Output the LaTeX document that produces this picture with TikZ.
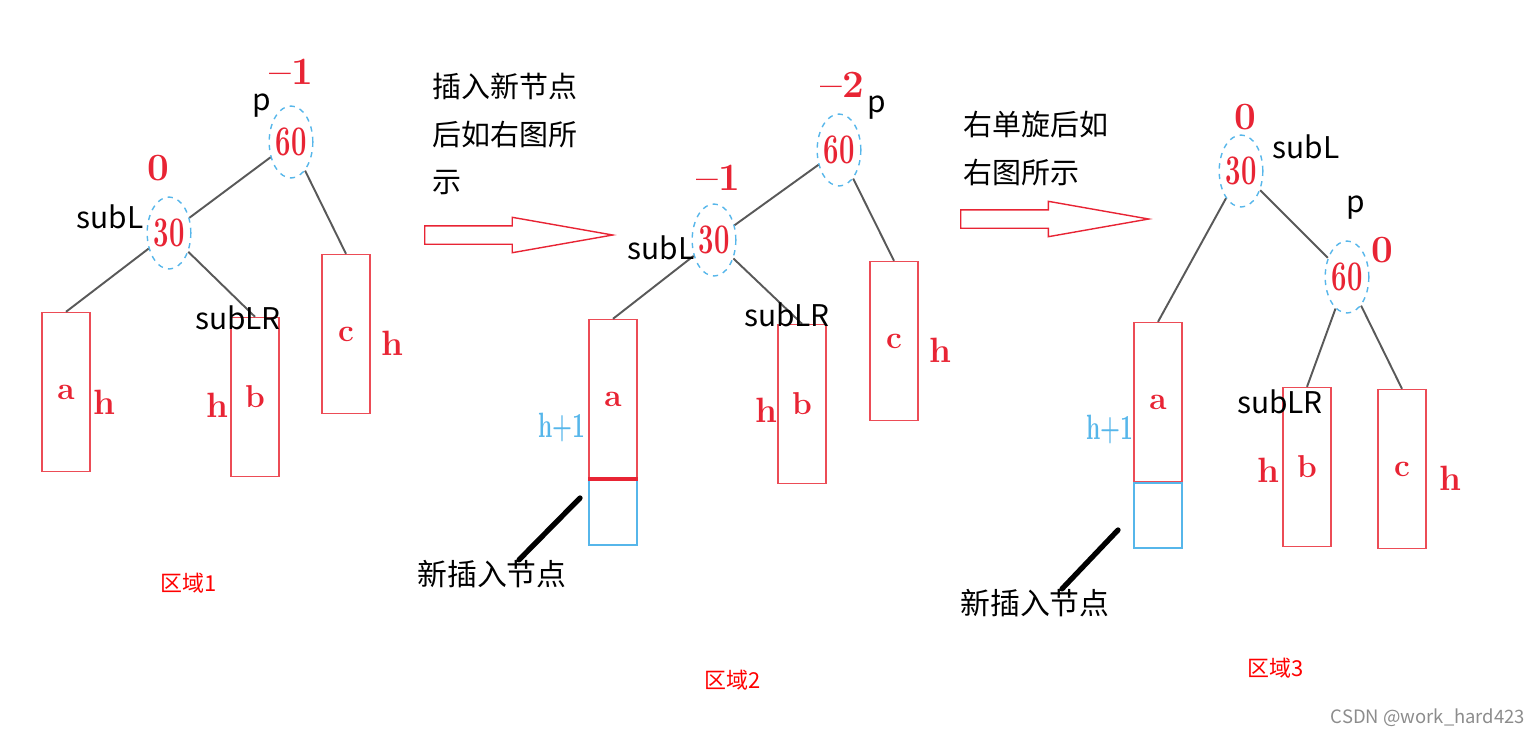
\documentclass[tikz,border=0pt]{standalone}
\usepackage{fontspec}
\usepackage{tikz}
\usetikzlibrary{positioning,shapes.geometric,shapes.arrows}
\newfontfamily\cjk{Noto Sans CJK SC}
\definecolor{avlred}{RGB}{232,36,52}
\definecolor{boxred}{RGB}{236,76,86}
\definecolor{avlblue}{RGB}{86,182,234}
\newcommand{\condtxt}[1]{\scalebox{0.65}[1]{#1}}

\begin{document}
\begin{tikzpicture}[
			x=0.02cm, y=-0.02cm,
			key/.style={ellipse, draw=avlblue, dashed, thick, minimum width=0.78cm, minimum height=1.44cm, inner sep=0pt, text=avlred, font=\bfseries\fontsize{24}{24}\selectfont},
			bal/.style={text=avlred, inner sep=0pt, font=\bfseries\fontsize{22}{22}\selectfont},
			tag/.style={inner sep=0pt, font=\cjk\fontsize{17}{17}\selectfont},
			sub/.style={draw=boxred, thick, minimum width=0.96cm, minimum height=3.18cm, inner sep=0pt, text=avlred, font=\bfseries\fontsize{18}{18}\selectfont},
			newsub/.style={draw=avlblue, thick, minimum width=0.96cm, minimum height=1.3cm, inner sep=0pt, anchor=north},
			hlab/.style={text=avlred, inner sep=0pt, font=\bfseries\fontsize{20}{20}\selectfont},
			link/.style={draw=black!65, line width=1.1pt},
			ptr/.style={line width=3pt, line cap=round},
			note/.style={align=left, inner sep=0pt, anchor=north west, font=\cjk\fontsize{16.5}{27}\selectfont},
			area/.style={text=red, font=\cjk\fontsize{12.5}{12.5}\selectfont},
			bigarrow/.style={single arrow, anchor=tail, draw=avlred, fill=white, thick, minimum height=3.76cm, inner xsep=0pt, inner ysep=0.17cm, single arrow head extend=0.17cm, single arrow tip angle=20}
			]
	\useasboundingbox (0,0) rectangle (1534,735);
	
	%% Region 1: before insertion
	\node[key] (p1) at (291,142) {\condtxt{60}};
	\node[key] (l1) at (169,233) {\condtxt{30}};
	\node[sub] (a1) at (66,392) {a};
	\node[sub] (b1) at (255,397) {b};
	\node[sub] (c1) at (346,334) {c};
	\draw[link] (p1) -- (l1);
	\draw[link] (p1) -- (c1.north);
	\draw[link] (l1) -- (a1.north);
	\draw[link] (l1) -- (b1.north);
	\node[bal] (bp1) at (291,72) {--1};
	\node[bal] (bl1) at (158,168) {0};
	\node[tag] (tp1) at (262,106) {p};
	\node[tag] (tl1) at (110,217) {subL};
	\node[tag] (tr1) at (238,318) {subLR};
	\node[hlab] (ha1) at (104,402) {h};
	\node[hlab] (hb1) at (217,405) {h};
	\node[hlab] (hc1) at (392,343) {h};
	\node[area] (area1) at (189,583) {区域1};
	
	%% Arrow 1 + note
	\node[note] (note1) at (432,73) {插入新节点\\后如右图所\\示};
	\node[bigarrow] (arr1) at (424,235) {};
	
	%% Region 2: after insertion
	\node[key] (p2) at (839,150) {\condtxt{60}};
	\node[key] (l2) at (714,240) {\condtxt{30}};
	\node[sub] (a2) at (613,399) {a};
	\node[newsub] (n2) at (a2.south) {};
	\draw[avlred, line width=2.5pt] (a2.south west) -- (a2.south east);
	\node[sub] (b2) at (802,404) {b};
	\node[sub] (c2) at (894,341) {c};
	\draw[link] (p2) -- (l2);
	\draw[link] (p2) -- (c2.north);
	\draw[link] (l2) -- (a2.north);
	\draw[link] (l2) -- (b2.north);
	\node[bal] (bp2) at (842,85) {--2};
	\node[bal] (bl2) at (718,178) {--1};
	\node[tag] (tp2) at (877,108) {p};
	\node[tag] (tl2) at (661,248) {subL};
	\node[tag] (tr2) at (787,315) {subLR};
	\node[hlab, text=avlblue] (ha2) at (562,428) {\condtxt{h+1}};
	\node[hlab] (hb2) at (766,410) {h};
	\node[hlab] (hc2) at (940,350) {h};
	\node[tag] (new2) at (492,574) {新插入节点};
	\coordinate (ptr2) at (580,498);
	\draw[ptr] (ptr2) -- ([xshift=0.54cm]new2.north);
	\node[area] (area2) at (733,680) {区域2};
	
	%% Arrow 2 + note
	\node[note] (note2) at (963,111) {右单旋后如\\右图所示};
	\node[bigarrow] (arr2) at (960,219) {};
	
	%% Region 3: after right rotation
	\node[key] (l3) at (1241,171) {\condtxt{30}};
	\node[key] (p3) at (1347,277) {\condtxt{60}};
	\node[sub] (a3) at (1158,402) {a};
	\node[newsub] (n3) at (a3.south) {};
	\node[sub] (b3) at (1307,467) {b};
	\node[sub] (c3) at (1402,469) {c};
	\draw[link] (l3) -- (a3.north);
	\draw[link] (l3) -- (p3);
	\draw[link] (p3) -- (b3.north);
	\draw[link] (p3) -- (c3.north);
	\node[bal] (bl3) at (1245,117) {0};
	\node[bal] (bp3) at (1382,250) {0};
	\node[tag] (tl3) at (1306,147) {subL};
	\node[tag] (tp3) at (1356,208) {p};
	\node[tag] (tr3) at (1280,402) {subLR};
	\node[hlab, text=avlblue] (ha3) at (1110,430) {\condtxt{h+1}};
	\node[hlab] (hb3) at (1268,470) {h};
	\node[hlab] (hc3) at (1450,478) {h};
	\node[tag] (new3) at (1035,603) {新插入节点};
	\coordinate (ptr3) at (1118,530);
	\draw[ptr] (ptr3) -- ([xshift=0.54cm]new3.north);
	\node[area] (area3) at (1276,668) {区域3};
	
	\node[text=black!45, font=\cjk\fontsize{10.5}{10.5}\selectfont] (mark) at (1428,718) {CSDN @work\_hard423};
	
\end{tikzpicture}
\end{document}
